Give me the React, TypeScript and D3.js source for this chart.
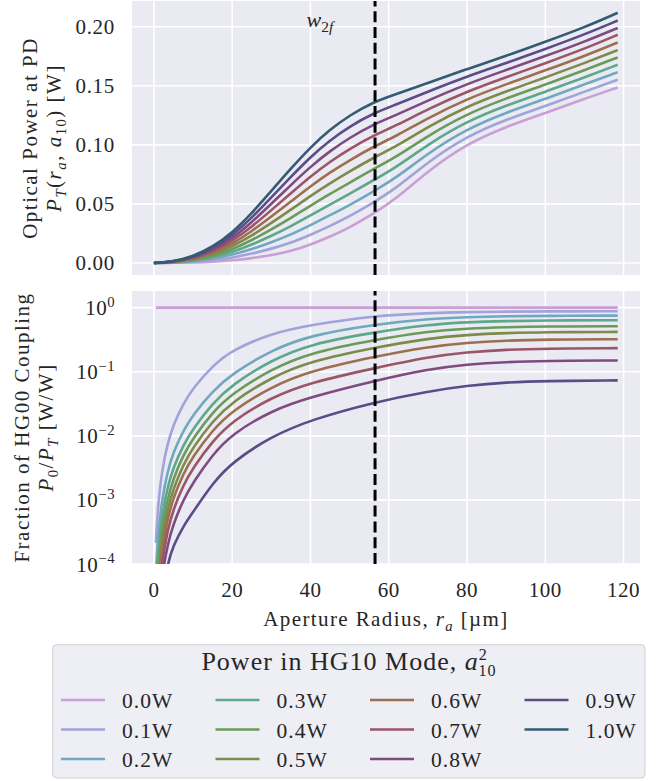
import React, { useEffect, useRef } from "react";
import * as d3 from "d3";

const WIDTH = 668;
const HEIGHT = 781;
const FONT = '"Liberation Serif", "Times New Roman", "DejaVu Serif", serif';
const INK = "#262626";
const FACE = "#EAEAF2";

// HG10 power of every curve, and its colour
const powerLabels = ["0.0W", "0.1W", "0.2W", "0.3W", "0.4W", "0.5W", "0.6W", "0.7W", "0.8W", "0.9W", "1.0W"];
const seriesColors = [
  "#c99fd5", "#a1a3da", "#72a8bf", "#5fa78a", "#6b9a5a", "#7d8a49",
  "#9d6f50", "#9a5567", "#7e4a80", "#5a4c87", "#345b72",
];

// top panel: optical power at the PD [W] against aperture radius [um]
const radiusTop = [0, 5, 10, 15, 20, 25, 30, 35, 40, 45, 50, 56, 62, 70, 80, 90, 100, 110, 118.5];
const powerTotal = [
  [0, 0.0001, 0.0004, 0.0010, 0.0022, 0.0040, 0.0065, 0.0100, 0.0155, 0.0222, 0.0300, 0.0415, 0.0545, 0.0780, 0.1010, 0.1155, 0.1268, 0.1390, 0.1486],
  [0, 0.0002, 0.0009, 0.0023, 0.0045, 0.0078, 0.0120, 0.0170, 0.0238, 0.0313, 0.0395, 0.0510, 0.0634, 0.0855, 0.1073, 0.1215, 0.1328, 0.1450, 0.1551],
  [0, 0.0003, 0.0014, 0.0035, 0.0069, 0.0116, 0.0174, 0.0240, 0.0320, 0.0404, 0.0490, 0.0604, 0.0722, 0.0929, 0.1136, 0.1274, 0.1389, 0.1511, 0.1616],
  [0, 0.0004, 0.0019, 0.0048, 0.0092, 0.0154, 0.0229, 0.0310, 0.0403, 0.0494, 0.0585, 0.0699, 0.0811, 0.1004, 0.1200, 0.1334, 0.1449, 0.1571, 0.1678],
  [0, 0.0005, 0.0024, 0.0060, 0.0115, 0.0192, 0.0283, 0.0380, 0.0485, 0.0585, 0.0680, 0.0794, 0.0899, 0.1078, 0.1263, 0.1394, 0.1510, 0.1632, 0.1740],
  [0, 0.0007, 0.0030, 0.0073, 0.0139, 0.0230, 0.0338, 0.0450, 0.0568, 0.0676, 0.0775, 0.0889, 0.0988, 0.1153, 0.1326, 0.1454, 0.1570, 0.1692, 0.1802],
  [0, 0.0008, 0.0035, 0.0085, 0.0162, 0.0268, 0.0392, 0.0520, 0.0650, 0.0767, 0.0870, 0.0983, 0.1076, 0.1227, 0.1389, 0.1513, 0.1630, 0.1752, 0.1867],
  [0, 0.0009, 0.0040, 0.0098, 0.0185, 0.0306, 0.0447, 0.0590, 0.0733, 0.0858, 0.0965, 0.1078, 0.1165, 0.1302, 0.1452, 0.1573, 0.1691, 0.1813, 0.1932],
  [0, 0.0010, 0.0045, 0.0110, 0.0208, 0.0344, 0.0501, 0.0660, 0.0815, 0.0948, 0.1060, 0.1173, 0.1253, 0.1376, 0.1516, 0.1633, 0.1751, 0.1873, 0.1990],
  [0, 0.0011, 0.0050, 0.0123, 0.0232, 0.0382, 0.0556, 0.0730, 0.0898, 0.1039, 0.1155, 0.1267, 0.1342, 0.1451, 0.1579, 0.1692, 0.1812, 0.1934, 0.2053],
  [0, 0.0012, 0.0055, 0.0135, 0.0255, 0.0420, 0.0610, 0.0800, 0.0980, 0.1130, 0.1250, 0.1362, 0.1430, 0.1525, 0.1642, 0.1752, 0.1872, 0.1994, 0.2118],
];

// bottom panel: log10 of the HG00 fraction P0/PT (the 1.0W curve is zero, so not drawn)
const radiusBottom = [0.5, 1, 2, 3.5, 5, 7.5, 10, 15, 20, 30, 40, 56.5, 70, 80, 90, 100, 118.5];
const couplingLog10 = [
  [0, 0, 0, 0, 0, 0, 0, 0, 0, 0, 0, 0, 0, 0, 0, 0, 0],
  [-3.67, -3.115, -2.56, -2.11, -1.825, -1.50, -1.257, -0.907, -0.663, -0.40, -0.27, -0.124, -0.085, -0.069, -0.061, -0.0575, -0.056],
  [-4.15, -3.58, -3.01, -2.55, -2.25, -1.92, -1.67, -1.30, -1.03, -0.663, -0.43, -0.259, -0.175, -0.147, -0.133, -0.127, -0.124],
  [-4.45, -3.86, -3.27, -2.79, -2.49, -2.145, -1.89, -1.49, -1.20, -0.819, -0.565, -0.383, -0.265, -0.227, -0.208, -0.200, -0.196],
  [-4.69, -4.08, -3.47, -2.98, -2.66, -2.30, -2.04, -1.63, -1.34, -0.959, -0.70, -0.502, -0.37, -0.326, -0.304, -0.294, -0.29],
  [-4.91, -4.28, -3.65, -3.14, -2.82, -2.45, -2.18, -1.77, -1.47, -1.088, -0.835, -0.622, -0.48, -0.424, -0.395, -0.383, -0.378],
  [-5.06, -4.43, -3.80, -3.29, -2.96, -2.59, -2.32, -1.91, -1.61, -1.233, -0.985, -0.762, -0.61, -0.545, -0.512, -0.498, -0.492],
  [-5.24, -4.61, -3.98, -3.47, -3.14, -2.77, -2.50, -2.08, -1.77, -1.399, -1.165, -0.943, -0.77, -0.694, -0.655, -0.639, -0.632],
  [-5.46, -4.83, -4.20, -3.69, -3.37, -3.00, -2.73, -2.29, -1.97, -1.606, -1.395, -1.14, -0.96, -0.885, -0.847, -0.831, -0.824],
  [-5.90, -5.30, -4.60, -3.98, -3.71, -3.41, -3.19, -2.74, -2.41, -2.01, -1.75, -1.471, -1.306, -1.218, -1.164, -1.144, -1.135],
];

const radiusTicks = [0, 20, 40, 60, 80, 100, 120];
const powerTicks = [0, 0.05, 0.1, 0.15, 0.2];
const decadeTicks = [0, -1, -2, -3, -4];
const beamRadius = 56.5; // w_2f marker

const PLOT_LEFT = 132;
const PLOT_RIGHT = 640;
const TOP_PANEL = { top: 1, bottom: 275 };
const BOTTOM_PANEL = { top: 291, bottom: 564 };

type Part = string | { t: string; it?: boolean; sub?: boolean; sup?: boolean; back?: number };

function addRich(text: any, parts: Part[], size: number, scale = 0.7) {
  let shift = 0;
  parts.forEach((p) => {
    const part = typeof p === "string" ? { t: p } : p;
    const target = part.sub ? 0.24 * size : part.sup ? -0.4 * size : 0;
    const ts = text.append("tspan").text(part.t).attr("dy", target - shift);
    if (part.sub || part.sup) ts.attr("font-size", scale * size);
    if (part.it) ts.style("font-style", "italic");
    if (part.back) ts.attr("dx", -part.back * size);
    shift = target;
  });
}

function drawChart(el: SVGSVGElement) {
  const svg = d3.select(el);
  svg.selectAll("*").remove();

  const x = d3.scaleLinear().domain([-5.6, 124.2]).range([PLOT_LEFT, PLOT_RIGHT]);
  const yPower = d3.scaleLinear().domain([-0.0102, 0.2218]).range([TOP_PANEL.bottom, TOP_PANEL.top]);
  const yCoupling = d3.scaleLog().domain([1e-4, 1.82]).range([BOTTOM_PANEL.bottom, BOTTOM_PANEL.top]);

  const panels = [
    { id: "clip-top", box: TOP_PANEL, ys: powerTicks.map((t) => yPower(t)) },
    { id: "clip-bottom", box: BOTTOM_PANEL, ys: decadeTicks.map((e) => yCoupling(10 ** e)) },
  ];

  const defs = svg.append("defs");
  panels.forEach((p) => {
    defs.append("clipPath").attr("id", p.id).append("rect")
      .attr("x", PLOT_LEFT).attr("y", p.box.top)
      .attr("width", PLOT_RIGHT - PLOT_LEFT).attr("height", p.box.bottom - p.box.top);

    svg.append("rect")
      .attr("x", PLOT_LEFT).attr("y", p.box.top)
      .attr("width", PLOT_RIGHT - PLOT_LEFT).attr("height", p.box.bottom - p.box.top)
      .attr("fill", FACE);

    const grid = svg.append("g").attr("stroke", "#fff").attr("stroke-width", 1.6).attr("clip-path", `url(#${p.id})`);
    grid.selectAll("line.v").data(radiusTicks).join("line").attr("class", "v")
      .attr("x1", (d) => x(d)).attr("x2", (d) => x(d))
      .attr("y1", p.box.top).attr("y2", p.box.bottom);
    grid.selectAll("line.h").data(p.ys).join("line").attr("class", "h")
      .attr("x1", PLOT_LEFT).attr("x2", PLOT_RIGHT)
      .attr("y1", (d) => d).attr("y2", (d) => d);
  });

  // curves
  const powerLine = d3.line<number>()
    .x((_, i) => x(radiusTop[i]))
    .y((d) => yPower(d))
    .curve(d3.curveBasis);
  svg.append("g").attr("clip-path", "url(#clip-top)")
    .selectAll("path").data(powerTotal).join("path")
    .attr("d", (d) => powerLine(d))
    .attr("fill", "none")
    .attr("stroke", (_, i) => seriesColors[i])
    .attr("stroke-width", 2.6);

  const couplingLine = d3.line<number>()
    .x((_, i) => x(radiusBottom[i]))
    .y((d) => yCoupling(10 ** d))
    .curve(d3.curveBasis);
  svg.append("g").attr("clip-path", "url(#clip-bottom)")
    .selectAll("path").data(couplingLog10).join("path")
    .attr("d", (d) => couplingLine(d))
    .attr("fill", "none")
    .attr("stroke", (_, i) => seriesColors[i])
    .attr("stroke-width", 2.6);

  // w_2f marker
  panels.forEach((p) => {
    svg.append("line")
      .attr("x1", x(beamRadius)).attr("x2", x(beamRadius))
      .attr("y1", p.box.bottom).attr("y2", p.box.top)
      .attr("stroke", "#000").attr("stroke-width", 3)
      .attr("stroke-dasharray", "11,4.8");
  });

  const txt = svg.append("g").style("font-family", FONT).attr("fill", INK);

  const wLabel = txt.append("text")
    .attr("x", x(39)).attr("y", yPower(0.2))
    .attr("font-size", 22);
  addRich(wLabel, [{ t: "w", it: true }, { t: "2", sub: true }, { t: "f", it: true, sub: true }], 22);

  // tick labels
  txt.selectAll("text.xt").data(radiusTicks).join("text").attr("class", "xt")
    .attr("x", (d) => x(d)).attr("y", 597)
    .attr("text-anchor", "middle").attr("font-size", 21).attr("letter-spacing", 0.5)
    .text((d) => String(d));

  txt.selectAll("text.yt").data(powerTicks).join("text").attr("class", "yt")
    .attr("x", 115).attr("y", (d) => yPower(d) + 7.5)
    .attr("text-anchor", "end").attr("font-size", 21).attr("letter-spacing", 0.7)
    .text((d) => d3.format(".2f")(d));

  decadeTicks.forEach((e) => {
    const t = txt.append("text")
      .attr("x", 115).attr("y", yCoupling(10 ** e) + 7.5)
      .attr("text-anchor", "end").attr("font-size", 21).attr("letter-spacing", 0.5);
    addRich(t, ["10", { t: e === 0 ? "0" : `\u2212${-e}`, sup: true }], 21);
  });

  // axis labels
  const rotated = (cx: number, cy: number, parts: Part[]) => {
    const t = txt.append("text")
      .attr("transform", `translate(${cx},${cy}) rotate(-90)`)
      .attr("text-anchor", "middle").attr("font-size", 21).attr("letter-spacing", 1.5);
    addRich(t, parts, 21);
  };
  const midTop = (TOP_PANEL.top + TOP_PANEL.bottom) / 2;
  const midBottom = (BOTTOM_PANEL.top + BOTTOM_PANEL.bottom) / 2;
  rotated(37, midTop, ["Optical Power at PD"]);
  rotated(61, midTop, [
    { t: "P", it: true }, { t: "T", it: true, sub: true }, "(", { t: "r", it: true }, { t: "a", it: true, sub: true },
    ", ", { t: "a", it: true }, { t: "10", sub: true }, ") [W]",
  ]);
  rotated(29, midBottom, ["Fraction of HG00 Coupling"]);
  rotated(53, midBottom, [
    { t: "P", it: true }, { t: "0", sub: true }, "/", { t: "P", it: true }, { t: "T", it: true, sub: true }, " [W/W]",
  ]);

  const xLabel = txt.append("text")
    .attr("x", (PLOT_LEFT + PLOT_RIGHT) / 2).attr("y", 626)
    .attr("text-anchor", "middle").attr("font-size", 21).attr("letter-spacing", 1.4);
  addRich(xLabel, ["Aperture Radius, ", { t: "r", it: true }, { t: "a", it: true, sub: true }, " [\u00b5m]"], 21);

  // legend
  const legend = svg.append("g").style("font-family", FONT);
  legend.append("rect")
    .attr("x", 52.7).attr("y", 644.7).attr("width", 592.3).attr("height", 133.3)
    .attr("rx", 4).attr("fill", "#EEEEF5").attr("stroke", "#cfcfd4").attr("stroke-width", 1);

  const title = legend.append("text")
    .attr("x", 349).attr("y", 670)
    .attr("text-anchor", "middle").attr("fill", INK)
    .attr("font-size", 26).attr("letter-spacing", 1);
  addRich(title, [
    "Power in HG10 Mode, ", { t: "a", it: true }, { t: "2", sup: true }, { t: "10", sub: true, back: 0.36 },
  ], 26, 0.62);

  const colX = (i: number) => 61 + Math.floor(i / 3) * 154.5;
  const rowY = (i: number) => 700 + (i % 3) * 29.5;
  const entries = legend.selectAll("g.entry").data(powerLabels).join("g").attr("class", "entry");
  entries.append("line")
    .attr("x1", (_, i) => colX(i)).attr("x2", (_, i) => colX(i) + 44)
    .attr("y1", (_, i) => rowY(i)).attr("y2", (_, i) => rowY(i))
    .attr("stroke", (_, i) => seriesColors[i]).attr("stroke-width", 2.6);
  entries.append("text")
    .attr("x", (_, i) => colX(i) + 61).attr("y", (_, i) => rowY(i) + 8)
    .attr("fill", INK).attr("font-size", 21.5).attr("letter-spacing", 1)
    .text((d) => d);
}

export default function App() {
  const svgRef = useRef<SVGSVGElement>(null);

  useEffect(() => {
    if (svgRef.current) drawChart(svgRef.current);
  }, []);

  return (
    <svg
      ref={svgRef}
      width={WIDTH}
      height={HEIGHT}
      style={{ position: "absolute", left: 0, top: 0, background: "#fff" }}
    />
  );
}
